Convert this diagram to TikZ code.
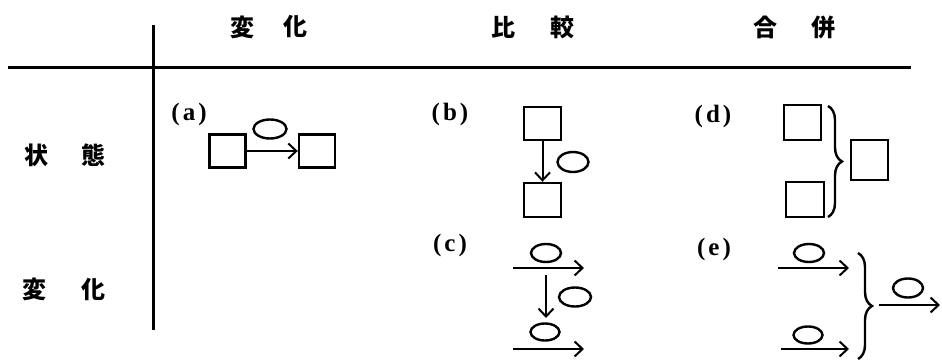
\documentclass[tikz,border=0pt]{standalone}
\usepackage{fontspec}
\setmainfont{Liberation Serif}
\newfontfamily\jp{Noto Sans CJK JP}
\usetikzlibrary{arrows.meta,decorations.pathreplacing,shapes.geometric}
\begin{document}
\begin{tikzpicture}[x=1pt,y=-1pt,
  rule/.style={line width=3pt},
  head/.style={font=\jp\bfseries\fontsize{24}{26}\selectfont, inner sep=0pt},
  tag/.style={font=\bfseries\fontsize{25}{27}\selectfont, inner sep=0pt},
  state/.style={draw, line width=2.4pt, rectangle, inner sep=0pt, minimum width=36pt, minimum height=33pt},
  oval/.style={draw, line width=2.4pt, ellipse, inner sep=0pt, minimum width=30pt, minimum height=18pt},
  flow/.style={line width=2pt, -{Straight Barb[length=8pt,width=15pt,line width=2pt]}},
  joint/.style={line width=2.4pt, decorate, decoration={brace, amplitude=14pt}}]
\useasboundingbox (0,0) rectangle (942,361);

% table rules
\coordinate (vtop) at (153,25);
\coordinate (vbot) at (153,330);
\coordinate (hl) at (8,68);
\coordinate (hr) at (911,68);
\draw[rule] (vtop) -- (vbot);
\draw[rule] (hl) -- (hr);

% column heads
\node[head] (c1a) at (242,27) {変};
\node[head] (c1b) at (295,27) {化};
\node[head] (c2a) at (503,27) {比};
\node[head] (c2b) at (562,27) {較};
\node[head] (c3a) at (765,27) {合};
\node[head] (c3b) at (823,27) {併};

% row heads
\node[head] (r1a) at (36,155) {状};
\node[head] (r1b) at (93,155) {態};
\node[head] (r2a) at (35,289) {変};
\node[head] (r2b) at (93,289) {化};

% (a) change of state
\node[tag] (la) at (189,114) {(\hspace{3pt}a\hspace{3pt})};
\node[state] (a1) at (227.5,151) {};
\node[state] (a2) at (317,151) {};
\node[oval, minimum width=33pt, minimum height=19pt] (ao) at (270,129) {};
\draw[flow] (a1.east) -- (a2.west);

% (b) comparison of states
\node[tag] (lb) at (450,114) {(\hspace{3pt}b\hspace{3pt})};
\node[state, minimum width=37pt] (b1) at (542.5,123.5) {};
\node[state, minimum width=37pt, minimum height=34pt] (b2) at (542.5,200) {};
\node[oval, minimum width=31pt, minimum height=20pt] (bo) at (573,162) {};
\draw[flow] (b1.south) -- (b2.north);

% (d) merging of states
\node[tag] (ld) at (713,116) {(\hspace{3pt}d\hspace{3pt})};
\node[state, minimum width=37pt, minimum height=35pt] (d1) at (802.5,122.5) {};
\node[state, minimum width=38pt, minimum height=35pt] (d2) at (805,199.5) {};
\node[state, minimum width=37pt, minimum height=40pt] (d3) at (869.5,160) {};
\coordinate (dbt) at (828,106);
\coordinate (dbb) at (828,217);
\draw[joint] (dbt) -- (dbb);

% (c) comparison of changes
\node[tag] (lc) at (450,245) {(\hspace{3pt}c\hspace{3pt})};
\node[oval] (co1) at (546,253) {};
\coordinate (c1s) at (513,268);
\coordinate (c1e) at (584,268);
\draw[flow] (c1s) -- (c1e);
\coordinate (cds) at (546,275);
\coordinate (cde) at (546,318);
\draw[flow] (cds) -- (cde);
\node[oval, minimum width=32pt, minimum height=19pt] (co2) at (575,297) {};
\node[oval, minimum width=29pt, minimum height=17pt] (co3) at (545,332) {};
\coordinate (c2s) at (513,349);
\coordinate (c2e) at (584,349);
\draw[flow] (c2s) -- (c2e);

% (e) merging of changes
\node[tag] (le) at (714,249) {(\hspace{3pt}e\hspace{3pt})};
\node[oval] (eo1) at (809,253) {};
\coordinate (e1s) at (778,268);
\coordinate (e1e) at (849,268);
\draw[flow] (e1s) -- (e1e);
\node[oval, minimum width=29pt, minimum height=17pt] (eo2) at (808,335) {};
\coordinate (e2s) at (781,349);
\coordinate (e2e) at (849,349);
\draw[flow] (e2s) -- (e2e);
\coordinate (ebt) at (858,253);
\coordinate (ebb) at (858,359);
\draw[joint] (ebt) -- (ebb);
\node[oval, minimum width=30pt, minimum height=19pt] (eo3) at (908,288) {};
\coordinate (e3s) at (879,305);
\coordinate (e3e) at (940,305);
\draw[flow] (e3s) -- (e3e);
\end{tikzpicture}
\end{document}
